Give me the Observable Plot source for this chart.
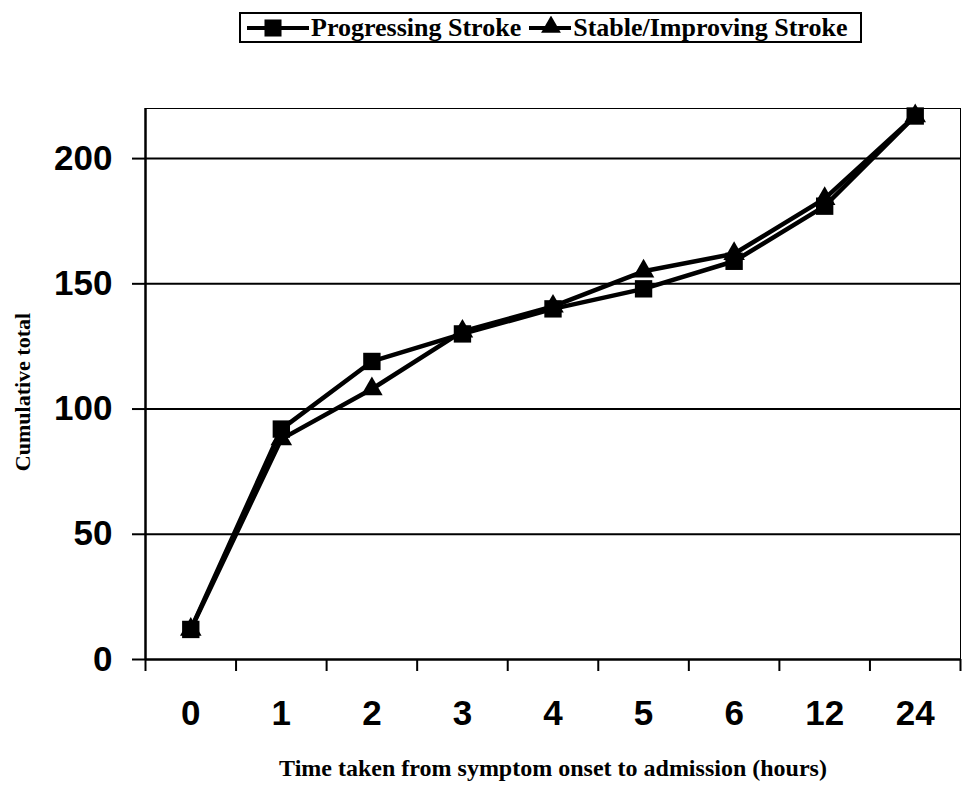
<!DOCTYPE html>
<html><head><meta charset="utf-8">
<script src="https://cdn.jsdelivr.net/npm/d3@7"></script>
<script src="https://cdn.jsdelivr.net/npm/@observablehq/plot@0.6"></script>
<style>
body{margin:0;background:#fff;width:962px;font-family:"Liberation Serif",serif;}
#legend{position:relative;height:60px;width:962px;}
#legend .box{position:absolute;left:239px;top:12px;width:623px;height:31px;border:2px solid #000;box-sizing:border-box;display:flex;align-items:center;padding-left:4px;font-weight:bold;font-size:26px;color:#000;white-space:nowrap;}
#legend .item{display:flex;align-items:center;margin-right:6px;}
#legend svg{display:block;margin-right:2px;}
</style></head><body>
<div id="legend"><div class="box"></div></div>
<div id="chart"></div>
<script>
const categories = ["0","1","2","3","4","5","6","12","24"];
const progressing = [12, 92, 119, 130, 140, 148, 159, 181, 217];
const stable = [12, 88, 108, 131, 141, 155, 162, 184, 217];
const seriesNames = ["Progressing Stroke","Stable/Improving Stroke"];
const seriesSymbols = ["square","triangle"];
const yTicks = [0,50,100,150,200];
const xTitle = "Time taken from symptom onset to admission (hours)";
const yTitle = "Cumulative total";

const rows = [];
[progressing, stable].forEach((vals, s) => {
  vals.forEach((v, i) => rows.push({series: seriesNames[s], symbol: seriesSymbols[s], pos: i + 0.5, cat: categories[i], value: v}));
});

// legend
const box = document.querySelector("#legend .box");
seriesNames.forEach((name, s) => {
  const item = document.createElement("div");
  item.className = "item";
  const w = s === 0 ? 64 : 44;
  const sw = d3.create("svg").attr("width", w).attr("height", 24);
  sw.append("line").attr("x1", 2).attr("x2", w).attr("y1", 12).attr("y2", 12).attr("stroke", "#000").attr("stroke-width", 4);
  sw.append("path").attr("transform", `translate(${s === 0 ? 28 : 24},${s === 0 ? 12 : 11})`).attr("fill", "#000")
    .attr("d", d3.symbol(s === 0 ? d3.symbolSquare : d3.symbolTriangle, s === 0 ? 290 : 170)());
  item.appendChild(sw.node());
  const t = document.createElement("span");
  t.textContent = name;
  item.appendChild(t);
  box.appendChild(item);
});

const chart = Plot.plot({
  width: 962,
  height: 730,
  marginTop: 48,
  marginBottom: 131,
  marginLeft: 145,
  marginRight: 2,
  style: {background: "#fff", color: "#000"},
  x: {type: "linear", domain: [0, categories.length]},
  y: {domain: [0, 220]},
  marks: [
    Plot.frame({stroke: "#000", strokeWidth: 1}),
    Plot.ruleY(yTicks.filter(d => d > 0), {stroke: "#000", strokeWidth: 2}),
    Plot.ruleY([0], {stroke: "#000", strokeWidth: 2.5}),
    Plot.ruleX([0], {stroke: "#000", strokeWidth: 2.5}),
    Plot.axisY({ticks: yTicks, tickSize: 13, tickPadding: 20, strokeWidth: 2, fontSize: 35, fontWeight: "bold", fontFamily: "Liberation Sans", label: null}),
    Plot.axisX({ticks: d3.range(0, categories.length + 1), tickFormat: () => "", tickSize: 12, strokeWidth: 2, label: null}),
    Plot.axisX({ticks: categories.map((_, i) => i + 0.5), tickFormat: d => categories[Math.floor(d)], tickSize: 0, tickPadding: 41, fontSize: 35, fontWeight: "bold", fontFamily: "Liberation Sans", label: null}),
    Plot.line(rows, {x: "pos", y: "value", z: "series", stroke: "#000", strokeWidth: 4.5}),
    Plot.dot(rows.filter(d => d.symbol === "triangle"), {x: "pos", y: "value", symbol: "triangle", r: 8, fill: "#000", stroke: "none"}),
    Plot.dot(rows.filter(d => d.symbol === "square"), {x: "pos", y: "value", symbol: "square", r: 9.8, fill: "#000", stroke: "none"}),
    Plot.text([yTitle], {frameAnchor: "left", textAnchor: "middle", rotate: -90, dx: -123, dy: 8, fontSize: 22, fontWeight: "bold", fontFamily: "Liberation Serif"}),
    Plot.text([xTitle], {frameAnchor: "bottom", dy: 116, fontSize: 24, fontWeight: "bold", fontFamily: "Liberation Serif"})
  ]
});
document.getElementById("chart").appendChild(chart);
</script>
</body></html>
